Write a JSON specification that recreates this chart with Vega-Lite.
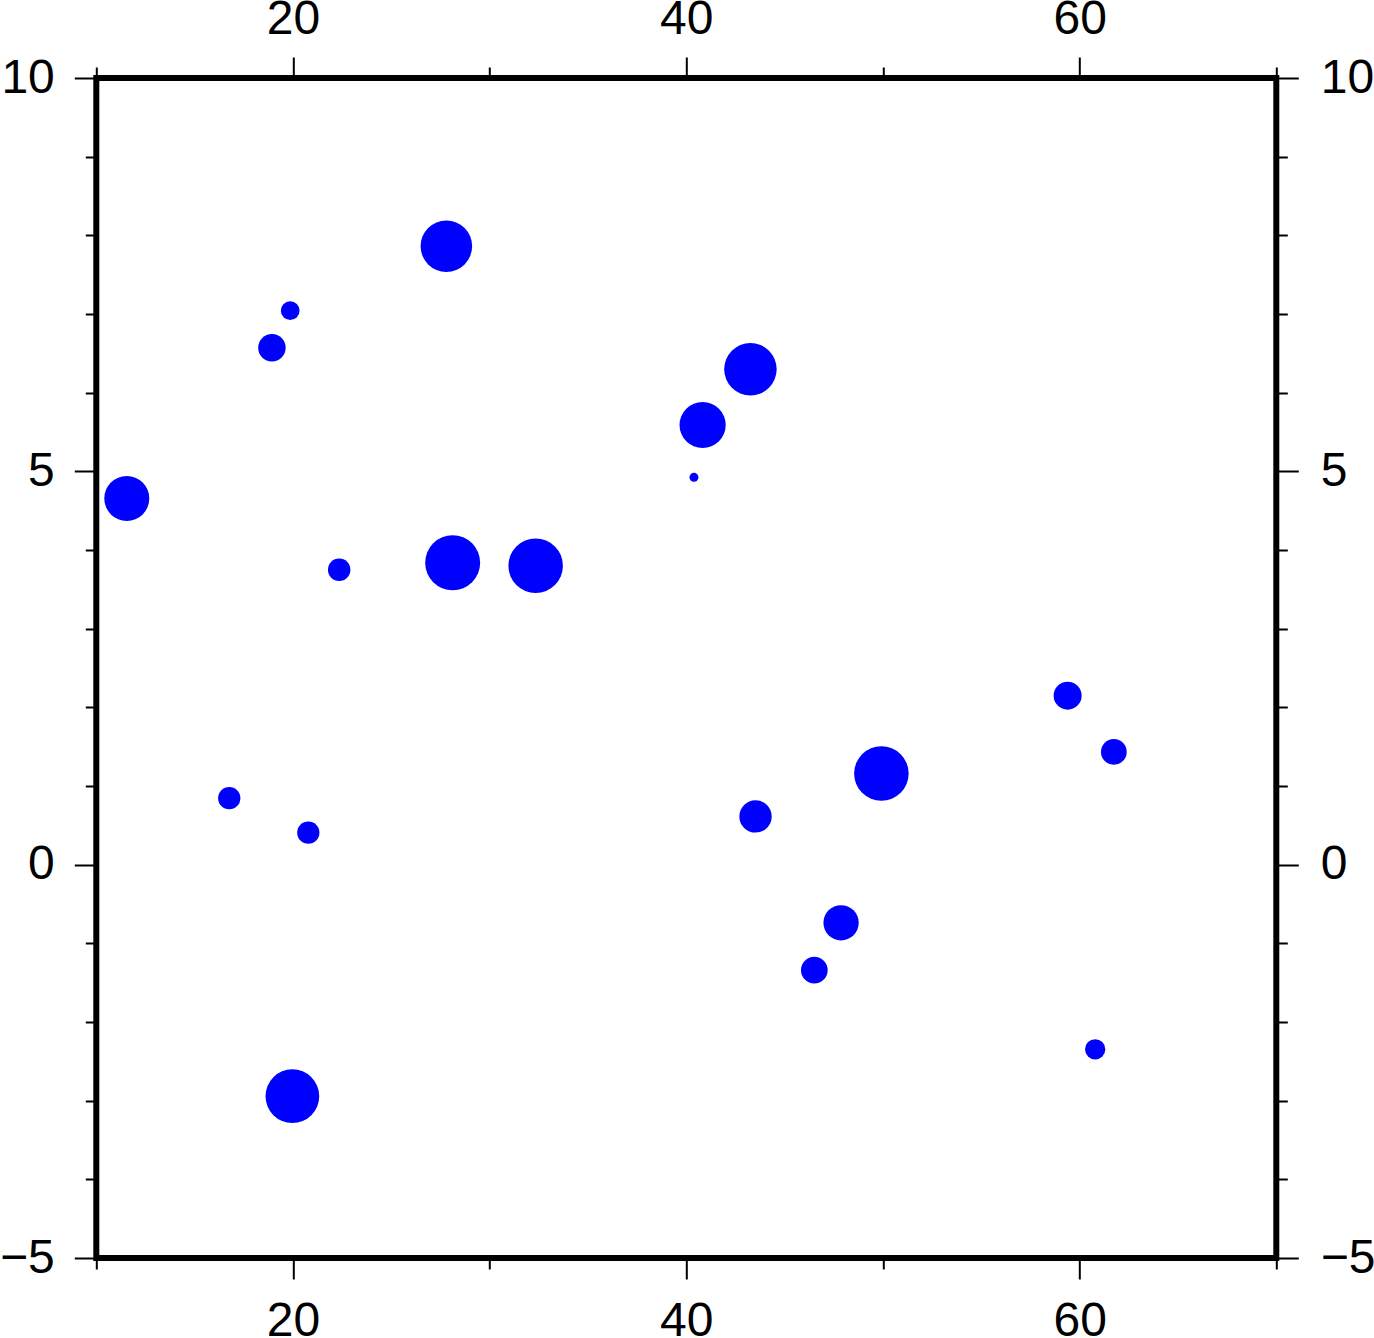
{
  "$schema": "https://vega.github.io/schema/vega-lite/v6.json",
  "width": 1180,
  "height": 1180,
  "autosize": {"type": "none"},
  "padding": {"left": 96.3, "top": 78, "right": 97.7, "bottom": 80},
  "background": "white",
  "config": {
    "view": {"stroke": "black", "strokeWidth": 6},
    "axis": {
      "grid": false,
      "domain": false,
      "tickColor": "black",
      "tickWidth": 2,
      "labelFont": "Liberation Sans",
      "labelFontSize": 48,
      "labelColor": "black",
      "labelFlush": false,
      "labelOverlap": false,
      "title": null
    }
  },
  "data": {
    "values": [
      {"x": 27.80, "y": 7.862, "size": 0.655},
      {"x": 19.86, "y": 7.042, "size": 0.238},
      {"x": 18.93, "y": 6.572, "size": 0.350},
      {"x": 11.55, "y": 4.655, "size": 0.572},
      {"x": 22.35, "y": 3.749, "size": 0.286},
      {"x": 28.12, "y": 3.838, "size": 0.699},
      {"x": 32.34, "y": 3.800, "size": 0.693},
      {"x": 43.26, "y": 6.298, "size": 0.667},
      {"x": 40.83, "y": 5.589, "size": 0.587},
      {"x": 40.39, "y": 4.924, "size": 0.114},
      {"x": 59.39, "y": 2.148, "size": 0.356},
      {"x": 61.74, "y": 1.433, "size": 0.327},
      {"x": 49.92, "y": 1.159, "size": 0.693},
      {"x": 43.52, "y": 0.613, "size": 0.411},
      {"x": 16.76, "y": 0.845, "size": 0.283},
      {"x": 20.78, "y": 0.407, "size": 0.283},
      {"x": 47.87, "y": -0.739, "size": 0.449},
      {"x": 46.51, "y": -1.341, "size": 0.339},
      {"x": 60.79, "y": -2.347, "size": 0.258},
      {"x": 19.97, "y": -2.943, "size": 0.683}
    ]
  },
  "resolve": {"axis": {"x": "independent", "y": "independent"}},
  "layer": [
    {
      "mark": {"type": "point", "filled": true, "shape": "circle", "opacity": 0},
      "encoding": {
        "x": {
          "field": "x", "type": "quantitative",
          "scale": {"domain": [10, 70], "nice": false, "zero": false},
          "axis": {
            "orient": "top",
            "values": [10, 20, 30, 40, 50, 60, 70],
            "tickSize": {"condition": {"test": "datum.value % 20 === 0", "value": 21}, "value": 11},
            "labelExpr": "datum.value % 20 === 0 ? datum.label : ''",
            "labelPadding": 14
          }
        },
        "y": {
          "field": "y", "type": "quantitative",
          "scale": {"domain": [-5, 10], "nice": false, "zero": false},
          "axis": {
            "orient": "right",
            "values": [-5, -4, -3, -2, -1, 0, 1, 2, 3, 4, 5, 6, 7, 8, 9, 10],
            "format": "d",
            "tickSize": {"condition": {"test": "datum.value % 5 === 0", "value": 22}, "value": 11},
            "labelExpr": "datum.value % 5 === 0 ? datum.label : ''",
            "labelPadding": 22
          }
        }
      }
    },
    {
      "mark": {"type": "point", "filled": true, "shape": "circle", "opacity": 1, "color": "#0000ff", "strokeWidth": 0},
      "encoding": {
        "x": {
          "field": "x", "type": "quantitative",
          "scale": {"domain": [10, 70], "nice": false, "zero": false},
          "axis": {
            "orient": "bottom",
            "values": [10, 20, 30, 40, 50, 60, 70],
            "tickSize": {"condition": {"test": "datum.value % 20 === 0", "value": 21}, "value": 11},
            "labelExpr": "datum.value % 20 === 0 ? datum.label : ''",
            "labelPadding": 18
          }
        },
        "y": {
          "field": "y", "type": "quantitative",
          "scale": {"domain": [-5, 10], "nice": false, "zero": false},
          "axis": {
            "orient": "left",
            "values": [-5, -4, -3, -2, -1, 0, 1, 2, 3, 4, 5, 6, 7, 8, 9, 10],
            "format": "d",
            "tickSize": {"condition": {"test": "datum.value % 5 === 0", "value": 22}, "value": 11},
            "labelExpr": "datum.value % 5 === 0 ? datum.label : ''",
            "labelPadding": 20
          }
        },
        "size": {
          "field": "size", "type": "quantitative",
          "scale": {"type": "pow", "exponent": 2, "domain": [0, 1], "range": [0, 6189]},
          "legend": null
        }
      }
    }
  ]
}
